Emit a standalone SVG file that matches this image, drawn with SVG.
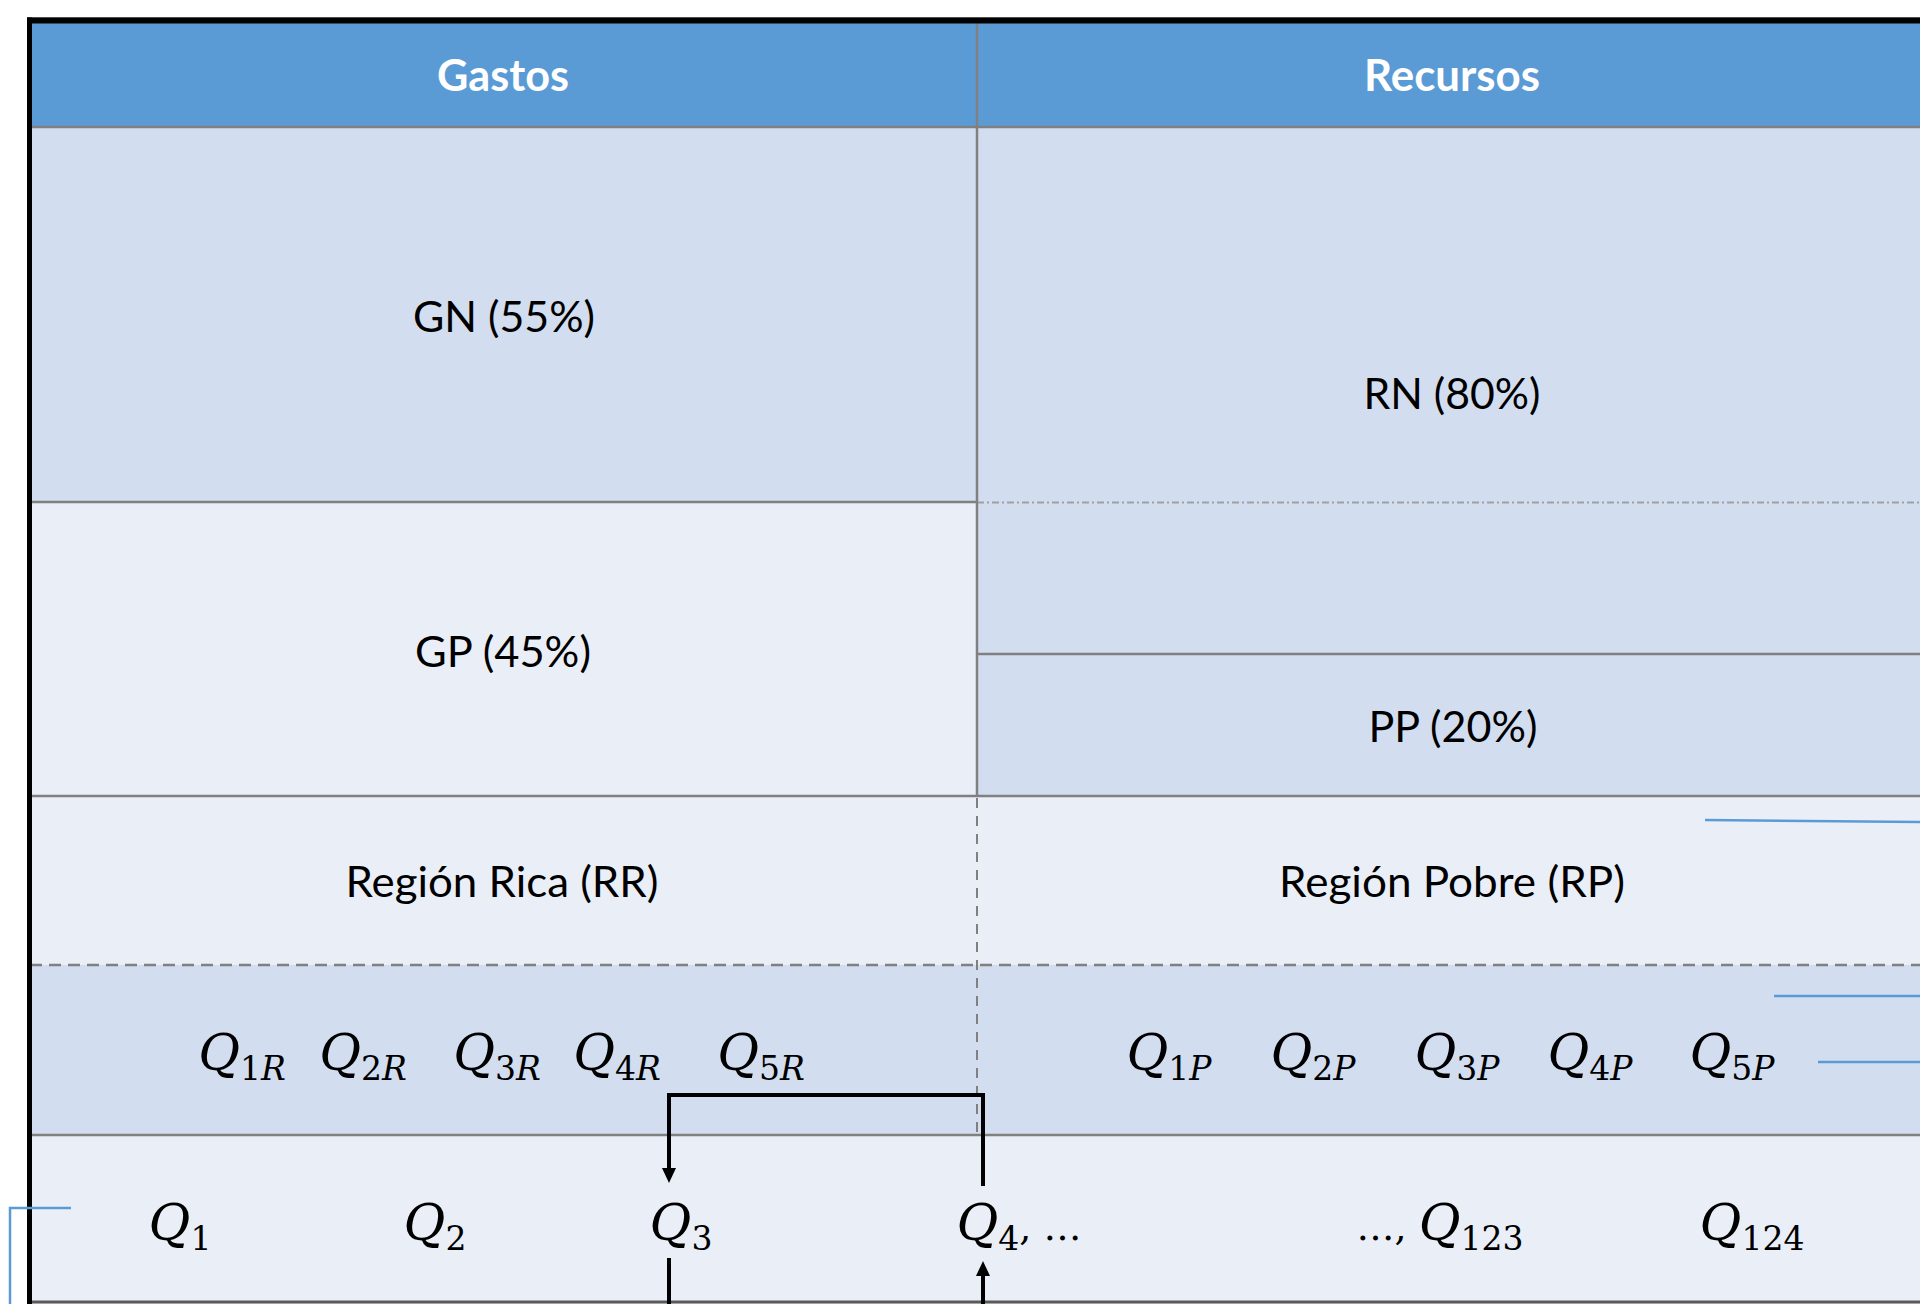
<svg xmlns="http://www.w3.org/2000/svg" width="1920" height="1304" viewBox="0 0 1920 1304">
<style>
.hdr{fill:#5B9BD5}
.dk{fill:#D2DEEF}
.lt{fill:#EAEFF7}
.grid{stroke:#808080;stroke-width:2.5;fill:none}
.dash{stroke:#808080;stroke-width:2.5;stroke-dasharray:12 7;fill:none}
.vdash{stroke:#808080;stroke-width:2;stroke-dasharray:10 8;fill:none}
.dashdot{stroke:#A0A0A0;stroke-width:2;stroke-dasharray:7 3 2 3;fill:none}
.ht{font-family:Lato,"Open Sans",sans-serif;font-weight:bold;font-size:43px;fill:#FFFFFF;text-anchor:middle}
.t{font-family:Lato,"Open Sans",sans-serif;font-size:43px;fill:#000000;text-anchor:middle}
.m{font-family:"DejaVu Serif","Liberation Serif",serif;font-size:51px;fill:#000000;text-anchor:middle}
.qi{font-style:italic}
.s{font-size:33px}
.si{font-style:italic}
.u{font-size:38px}
.blue{stroke:#5B9BD5;stroke-width:2.5;fill:none}
.conn{stroke:#000000;stroke-width:4;fill:none}
</style>
<defs>
<marker id="arr" viewBox="0 0 15 14" refX="0" refY="7" markerWidth="15" markerHeight="14" markerUnits="userSpaceOnUse" orient="auto">
<path d="M0,0 L15,7 L0,14 z" fill="#000000"/>
</marker>
</defs>
<rect x="0" y="0" width="1920" height="1304" fill="#FFFFFF"/>

<g id="header-gastos">
<rect class="hdr" x="30" y="20" width="947" height="107"/>
<text class="ht" x="503" y="91" textLength="132" lengthAdjust="spacingAndGlyphs">Gastos</text>
</g>
<g id="header-recursos">
<rect class="hdr" x="977" y="20" width="950" height="107"/>
<text class="ht" x="1452" y="91" textLength="176" lengthAdjust="spacingAndGlyphs">Recursos</text>
</g>
<g id="gn">
<rect class="dk" x="30" y="127" width="947" height="375"/>
<text class="t" x="504" y="332" textLength="182" lengthAdjust="spacingAndGlyphs">GN (55%)</text>
</g>
<g id="rn">
<rect class="dk" x="977" y="127" width="950" height="527"/>
<text class="t" x="1452" y="409" textLength="177" lengthAdjust="spacingAndGlyphs">RN (80%)</text>
<line class="dashdot" x1="977" y1="502.5" x2="1920" y2="502.5"/>
</g>
<g id="gp">
<rect class="lt" x="30" y="502" width="947" height="294"/>
<text class="t" x="503" y="667" textLength="176" lengthAdjust="spacingAndGlyphs">GP (45%)</text>
</g>
<g id="pp">
<rect class="dk" x="977" y="654" width="950" height="142"/>
<text class="t" x="1453" y="742" textLength="169" lengthAdjust="spacingAndGlyphs">PP (20%)</text>
</g>
<g id="rr">
<rect class="lt" x="30" y="796" width="947" height="169"/>
<text class="t" x="502" y="897" textLength="313" lengthAdjust="spacingAndGlyphs">Región Rica (RR)</text>
</g>
<g id="rp">
<rect class="lt" x="977" y="796" width="950" height="169"/>
<text class="t" x="1452" y="897" textLength="346" lengthAdjust="spacingAndGlyphs">Región Pobre (RP)</text>
</g>
<g id="quintiles-row">
<rect class="dk" x="30" y="965" width="1897" height="170"/>
<text class="m" x="242" y="1070"><tspan class="qi">Q</tspan><tspan class="s" dy="10">1</tspan><tspan class="s si">R</tspan></text>
<text class="m" x="363" y="1070"><tspan class="qi">Q</tspan><tspan class="s" dy="10">2</tspan><tspan class="s si">R</tspan></text>
<text class="m" x="497" y="1070"><tspan class="qi">Q</tspan><tspan class="s" dy="10">3</tspan><tspan class="s si">R</tspan></text>
<text class="m" x="617" y="1070"><tspan class="qi">Q</tspan><tspan class="s" dy="10">4</tspan><tspan class="s si">R</tspan></text>
<text class="m" x="761" y="1070"><tspan class="qi">Q</tspan><tspan class="s" dy="10">5</tspan><tspan class="s si">R</tspan></text>
<text class="m" x="1169" y="1070"><tspan class="qi">Q</tspan><tspan class="s" dy="10">1</tspan><tspan class="s si">P</tspan></text>
<text class="m" x="1313" y="1070"><tspan class="qi">Q</tspan><tspan class="s" dy="10">2</tspan><tspan class="s si">P</tspan></text>
<text class="m" x="1457" y="1070"><tspan class="qi">Q</tspan><tspan class="s" dy="10">3</tspan><tspan class="s si">P</tspan></text>
<text class="m" x="1590" y="1070"><tspan class="qi">Q</tspan><tspan class="s" dy="10">4</tspan><tspan class="s si">P</tspan></text>
<text class="m" x="1732" y="1070"><tspan class="qi">Q</tspan><tspan class="s" dy="10">5</tspan><tspan class="s si">P</tspan></text>
</g>
<g id="percentiles-row">
<rect class="lt" x="30" y="1135" width="1897" height="170"/>
<text class="m" x="180" y="1240"><tspan class="qi">Q</tspan><tspan class="s" dy="10">1</tspan></text>
<text class="m" x="435" y="1240"><tspan class="qi">Q</tspan><tspan class="s" dy="10">2</tspan></text>
<text class="m" x="681" y="1240"><tspan class="qi">Q</tspan><tspan class="s" dy="10">3</tspan></text>
<text class="m" x="1019" y="1240"><tspan class="qi">Q</tspan><tspan class="s" dy="10">4</tspan><tspan class="u" dy="-10">, …</tspan></text>
<text class="m" x="1440" y="1240"><tspan class="u">…, </tspan><tspan class="qi">Q</tspan><tspan class="s" dy="10">123</tspan></text>
<text class="m" x="1752" y="1240"><tspan class="qi">Q</tspan><tspan class="s" dy="10">124</tspan></text>
</g>

<g id="grid">
<line class="grid" x1="30" y1="127" x2="1920" y2="127"/>
<line class="grid" x1="30" y1="502" x2="977" y2="502"/>
<line class="grid" x1="977" y1="654" x2="1920" y2="654"/>
<line class="grid" x1="30" y1="796" x2="1920" y2="796"/>
<line class="dash" x1="30" y1="965" x2="1920" y2="965"/>
<line class="grid" x1="30" y1="1135" x2="1920" y2="1135"/>
<line class="grid" x1="977" y1="20" x2="977" y2="796"/>
<line class="vdash" x1="977" y1="798" x2="977" y2="1135"/>
<line x1="30" y1="1302" x2="1920" y2="1302" stroke="#5A5A5A" stroke-width="3"/>
<line x1="27" y1="17.5" x2="1920" y2="17.5" stroke="#A0A0A0" stroke-width="1"/>
<line x1="27" y1="20.5" x2="1920" y2="20.5" stroke="#000000" stroke-width="6"/>
<line x1="29.5" y1="17.5" x2="29.5" y2="1304" stroke="#000000" stroke-width="5"/>
</g>

<g id="connectors">
<path class="conn" d="M983,1186 V1095 H669 V1168" marker-end="url(#arr)"/>
<path class="conn" d="M669,1258 V1304"/>
<path class="conn" d="M983,1304 V1276" marker-end="url(#arr)"/>
<path class="blue" d="M1705,820 L1920,822"/>
<path class="blue" d="M1774,996 H1920"/>
<path class="blue" d="M1818,1062 H1920"/>
<path class="blue" d="M71,1208 H10 V1304"/>
</g>
</svg>
